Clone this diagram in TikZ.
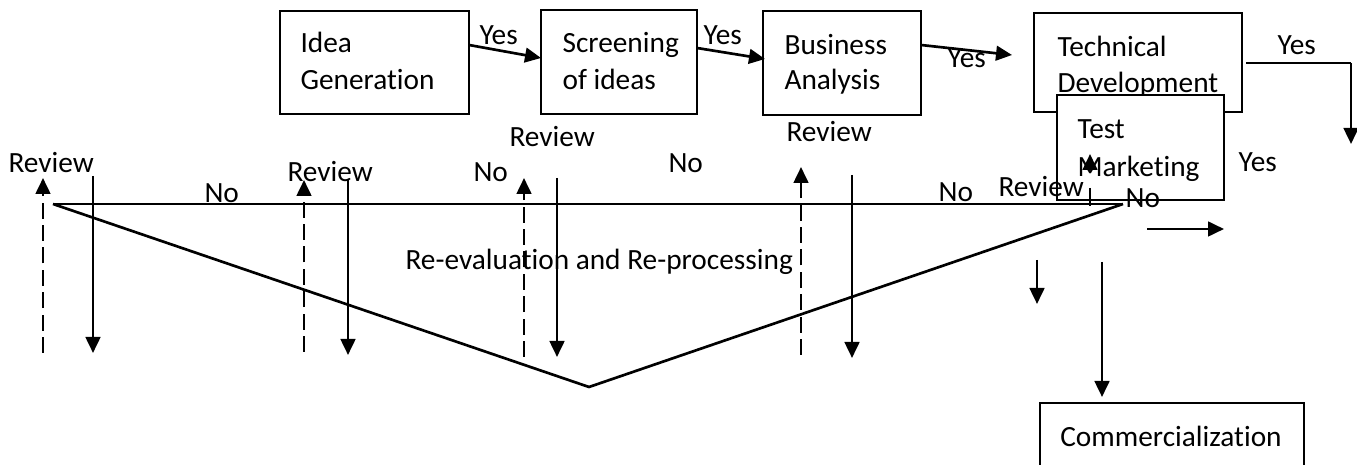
\documentclass[tikz,border=0pt]{standalone}
\usepackage{fontspec}
\setmainfont{Carlito}[Ligatures=NoCommon]
\usetikzlibrary{arrows.meta,fit}

\tikzset{
  box/.style={draw, line width=0.6pt, inner sep=0pt},
  lbl/.style={anchor=base west, inner sep=0pt},
  flow/.style={line width=1pt, -{Triangle[width=5.5pt,length=6pt]}},
  back/.style={flow, dash pattern=on 6pt off 2.4pt},
  thin/.style={line width=0.6pt}
}

\begin{document}
\begin{tikzpicture}[x=0.375pt, y=-0.375pt, font=\fontsize{11}{13.4}\selectfont]
  \useasboundingbox (0,0) rectangle (1357,465);

  % main stages
  \node[box, fit={(280,11) (469,114)}] (idea) {};
  \node[box, fit={(541,10) (697,114)}] (screen) {};
  \node[box, fit={(763,11) (921,115)}] (business) {};
  \node[box, fit={(1034,13) (1242,112)}] (tech) {};
  \node[lbl] (idea1) at (300,53) {Idea};
  \node[lbl] (idea2) at (300,90) {Generation};
  \node[lbl] (screen1) at (562,53) {Screening};
  \node[lbl] (screen2) at (562,90) {of ideas};
  \node[lbl] (business1) at (784,55) {Business};
  \node[lbl] (business2) at (784,90) {Analysis};
  \node[lbl] (tech1) at (1057,57) {Technical};
  \node[lbl] (tech2) at (1057,93) {Development};

  % yes arrows along the top
  \coordinate (a1) at (469,45);  \coordinate (b1) at (541,58);
  \coordinate (a2) at (697,48);  \coordinate (b2) at (765,59);
  \coordinate (a3) at (921,45);  \coordinate (b3) at (1012,55);
  \draw[flow] (a1) -- (b1);
  \draw[flow] (a2) -- (b2);
  \draw[flow] (a3) -- (b3);
  \node[lbl] (yes1) at (479,45) {Yes};
  \node[lbl] (yes2) at (703,45) {Yes};
  \node[lbl] (yes3) at (947,68) {Yes};

  \coordinate (t1) at (1246,63);  \coordinate (t2) at (1351,63);
  \coordinate (t3) at (1351,144);
  \draw[thin] (t1) -- (t2);
  \draw[flow] (t2) -- (t3);
  \node[lbl] (yes4) at (1277,55) {Yes};

  % small up arrow under the test box
  \coordinate (m1) at (1090,188);  \coordinate (m2) at (1090,206);
  \coordinate (m3) at (1090,170);  \coordinate (m4) at (1090,154);

  \node[box, fill=white, fit={(1057,95) (1224,200)}] (test) {};
  \node[lbl] (test1) at (1077,139) {Test};
  \node[lbl] (test2) at (1077,177) {Marketing};
  \draw[line width=1pt] (m1) -- (m2);
  \draw[flow] (m3) -- (m4);
  \node[lbl] (yes5) at (1238,172) {Yes};

  % review line and the re-evaluation wedge
  \coordinate (left) at (53,204);
  \coordinate (right) at (1123,204);
  \coordinate (low) at (589,387);
  \draw[line width=1pt] (left) -- (right);
  \draw[line width=1pt] (left) -- (low) -- (right);
  \node[lbl] (reeval) at (405,270) {Re-evaluation and Re-processing};

  \coordinate (u1a) at (43,353);   \coordinate (u1b) at (43,178);
  \coordinate (u2a) at (304,352);  \coordinate (u2b) at (304,180);
  \coordinate (u3a) at (524,357);  \coordinate (u3b) at (524,178);
  \coordinate (u4a) at (801,355);  \coordinate (u4b) at (801,167);
  \draw[back] (u1a) -- (u1b);
  \draw[back] (u2a) -- (u2b);
  \draw[back] (u3a) -- (u3b);
  \draw[back] (u4a) -- (u4b);

  \coordinate (d1a) at (93,176);   \coordinate (d1b) at (93,353);
  \coordinate (d2a) at (348,180);  \coordinate (d2b) at (348,355);
  \coordinate (d3a) at (557,178);  \coordinate (d3b) at (557,357);
  \coordinate (d4a) at (852,175);  \coordinate (d4b) at (852,358);
  \draw[flow] (d1a) -- (d1b);
  \draw[flow] (d2a) -- (d2b);
  \draw[flow] (d3a) -- (d3b);
  \draw[flow] (d4a) -- (d4b);

  \node[lbl] (rev1) at (8,173) {Review};
  \node[lbl] (rev2) at (287,182) {Review};
  \node[lbl] (rev3) at (509,147) {Review};
  \node[lbl] (rev4) at (786,142) {Review};
  \node[lbl] (rev5) at (998,197) {Review};
  \node[lbl] (no1) at (204,203) {No};
  \node[lbl] (no2) at (473,182) {No};
  \node[lbl] (no3) at (668,173) {No};
  \node[lbl] (no4) at (938,202) {No};
  \node[lbl] (no5) at (1125,208) {No};

  % way out to commercialization
  \coordinate (r1) at (1147,229);  \coordinate (r2) at (1224,229);
  \coordinate (s1) at (1037,260);  \coordinate (s2) at (1037,304);
  \coordinate (c1) at (1102,262);  \coordinate (c2) at (1102,397);
  \draw[flow] (r1) -- (r2);
  \draw[flow] (s1) -- (s2);
  \draw[flow] (c1) -- (c2);
  \node[box, fit={(1040,403) (1304,480)}] (comm) {};
  \node[anchor=base, inner sep=0pt] (commtext) at (1171,447) {Commercialization};
\end{tikzpicture}
\end{document}
